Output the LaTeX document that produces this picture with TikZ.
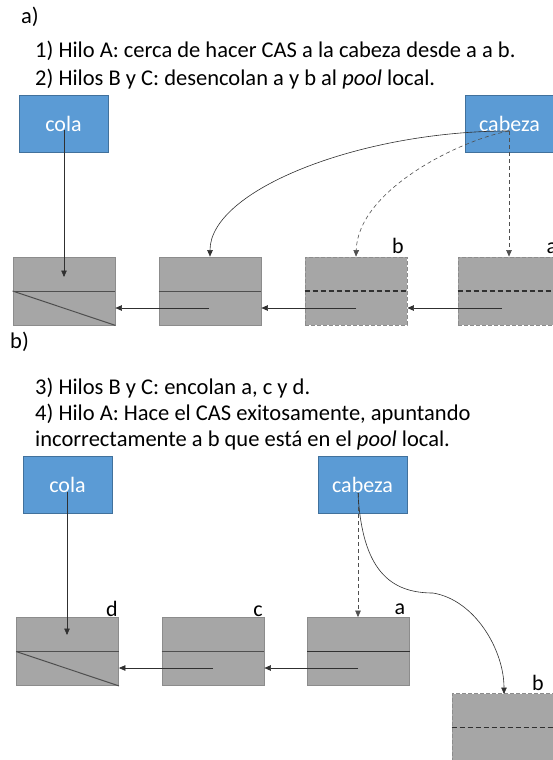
\documentclass[tikz,border=0pt]{standalone}
\usepackage{fontspec}
\setmainfont{Carlito}
\usetikzlibrary{arrows.meta}
\definecolor{boxblue}{HTML}{5B9BD5}
\definecolor{boxblueedge}{HTML}{41719C}
\definecolor{cellgray}{HTML}{A6A6A6}
\definecolor{celledge}{HTML}{8C8C8C}
\definecolor{ink}{HTML}{303030}
\tikzset{
  ptr/.style={draw=ink, line width=0.6pt, -{Triangle[length=6.5pt,width=5.5pt]}},
  ptrdash/.style={ptr, draw=ink!85, dash pattern=on 4pt off 3pt},
  varbox/.style={rectangle, fill=boxblue, draw=boxblueedge, line width=0.6pt,
    minimum width=89pt, minimum height=57pt, inner sep=0pt,
    text=white, font=\fontsize{22}{24}\selectfont},
  cell/.style={rectangle, fill=cellgray, draw=celledge, line width=0.8pt,
    minimum width=102pt, minimum height=68pt, inner sep=0pt},
  freecell/.style={cell, dash pattern=on 4pt off 2pt},
  midline/.style={draw=ink!85, line width=1pt},
  midlinedash/.style={draw=ink, line width=1.1pt, dash pattern=on 5pt off 3pt},
  caption/.style={anchor=base west, inner sep=0pt, font=\fontsize{22.5}{24}\selectfont},
  lbl/.style={anchor=base, inner sep=0pt, font=\fontsize{22}{24}\selectfont},
}
\begin{document}
\begin{tikzpicture}[x=1pt, y=-1pt]
\useasboundingbox (0,0) rectangle (553,760);
\fill[white] (0,0) rectangle (553,760);

% ---------- part a ----------
\node[caption] (ta) at (21,24) {a)};
\node[caption] (t1) at (35,57) {1) Hilo A: cerca de hacer CAS a la cabeza desde a a b.};
\node[caption] (t2) at (35,85) {2) Hilos B y C: desencolan a y b al \textit{pool} local.};

\node[varbox] (colaA) at (63.5,123.5) {cola};
\node[varbox] (cabA) at (509.5,123.5) {cabeza};

\node[cell] (a1) at (64,291) {};
\node[cell] (a2) at (210,291) {};
\node[freecell] (ab) at (356,291) {};
\node[freecell] (aa) at (509,291) {};

\draw[midline] (a1.west) -- (a1.east);
\draw[midline] (a1.west) -- (a1.south east);
\draw[midline] (a2.west) -- (a2.east);
\draw[midlinedash] (ab.west) -- (ab.east);
\draw[midlinedash] (aa.west) -- (aa.east);

\node[lbl] (lb1) at (398,253) {b};
\node[lbl] (la1) at (552,253) {a};

% next pointers
\coordinate (p2) at (209,308);
\coordinate (pb) at (356,308);
\coordinate (pa) at (502,308);
\draw[ptr] (p2) -- (a1.east |- p2);
\draw[ptr] (pb) -- (a2.east |- pb);
\draw[ptr] (pa) -- (ab.east |- pa);

% cola / cabeza pointers
\coordinate (colaAo) at (64,130);
\coordinate (a1in) at (64,277);
\draw[ptr] (colaAo) -- (a1in);
\coordinate (cabAo) at (509,131);
\draw[ptr] (cabAo) .. controls (360,131) and (210,190) .. (a2.north);
\draw[ptrdash] (cabAo) .. controls (460,140) and (358,190) .. (ab.north);
\draw[ptrdash] (cabAo) -- (aa.north);

% ---------- part b ----------
\node[caption] (tb) at (10,348) {b)};
\node[caption] (t3) at (35,394) {3) Hilos B y C: encolan a, c y d.};
\node[caption] (t4) at (35,420) {4) Hilo A: Hace el CAS exitosamente, apuntando};
\node[caption] (t5) at (35,446) {incorrectamente a b que está en el \textit{pool} local.};

\node[varbox] (colaB) at (67.5,484.5) {cola};
\node[varbox] (cabB) at (362.5,484.5) {cabeza};

\node[cell] (bd) at (67.5,651.5) {};
\node[cell] (bc) at (213,651.5) {};
\node[cell] (ba) at (358.5,651.5) {};
\node[freecell] (bb) at (503,727.5) {};

\draw[midline] (bd.west) -- (bd.east);
\draw[midline] (bd.west) -- (bd.south east);
\draw[midline] (bc.west) -- (bc.east);
\draw[midline, line width=1.4pt, draw=ink] (ba.west) -- (ba.east);
\draw[midlinedash] (bb.west) -- (bb.east);

\node[lbl] (ld) at (112,616) {d};
\node[lbl] (lc) at (258,616) {c};
\node[lbl] (la2) at (400,614) {a};
\node[lbl] (lb2) at (538,690) {b};

\coordinate (pc) at (213,668);
\coordinate (pa2) at (358,668);
\draw[ptr] (pc) -- (bd.east |- pc);
\draw[ptr] (pa2) -- (bc.east |- pa2);

\coordinate (colaBo) at (67,492);
\coordinate (bdin) at (67,635);
\draw[ptr] (colaBo) -- (bdin);
\coordinate (cabBo) at (358,493);
\coordinate (bbin) at (504,694);
\draw[ptrdash] (cabBo) -- (cabBo |- ba.north);
\draw[ptr] (cabBo) .. controls (362,570) and (390,593) .. (433,593)
           .. controls (475,600) and (504,650) .. (bbin);
\end{tikzpicture}
\end{document}
